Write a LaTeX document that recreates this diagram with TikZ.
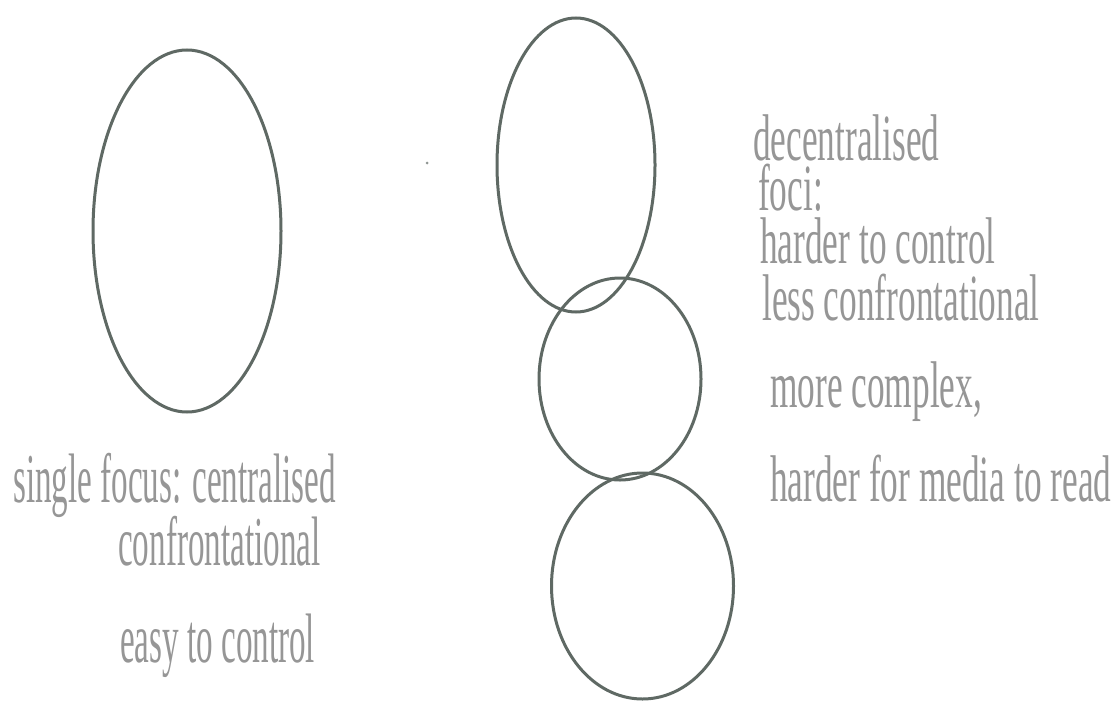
\documentclass[tikz,border=0pt]{standalone}
\usepackage{fontspec}
\usetikzlibrary{shapes.geometric}
\newfontfamily\scanfontL[FakeStretch=0.473]{Liberation Serif}
\newfontfamily\scanfontR[FakeStretch=0.535]{Liberation Serif}
\definecolor{txtgray}{RGB}{150,150,150}
\definecolor{linegray}{RGB}{95,105,100}
\tikzset{
  oval/.style={ellipse, draw=linegray, line width=3pt, inner sep=0pt},
  label text/.style={anchor=base west, inner sep=0pt, text=txtgray},
  left text/.style={label text, font=\scanfontL\fontsize{70}{70}\selectfont},
  right text/.style={label text, font=\scanfontR\fontsize{66}{66}\selectfont},
  speck/.style={circle, fill=linegray!70, inner sep=0pt, minimum size=3pt}
}
\begin{document}
\begin{tikzpicture}[x=1pt,y=-1pt]
\useasboundingbox[fill=white] (0,0) rectangle (1115,704);
% left: single focus
\node[oval, minimum width=188, minimum height=362] (single) at (187,231) {};
% right: chain of foci
\node[oval, minimum width=158, minimum height=294] (fociA) at (576,165) {};
\node[oval, minimum width=162, minimum height=202] (fociB) at (620,379) {};
\node[oval, minimum width=182, minimum height=226] (fociC) at (642.5,586) {};
\node[speck] (speck) at (427,163) {};
% left texts
\node[left text] (t1) at (13,502) {single focus: centralised};
\node[left text] (t2) at (118,565) {confrontational};
\node[left text] (t3) at (120,662) {easy to control};
% right texts
\node[right text] (r1) at (753,160) {decentralised};
\node[right text] (r2) at (758,210) {foci:};
\node[right text] (r3) at (760,263) {harder to control};
\node[right text] (r4) at (762,320) {less confrontational};
\node[right text] (r5) at (770,407) {more complex,};
\node[right text] (r6) at (770,501) {harder for media to read};
\end{tikzpicture}
\end{document}
